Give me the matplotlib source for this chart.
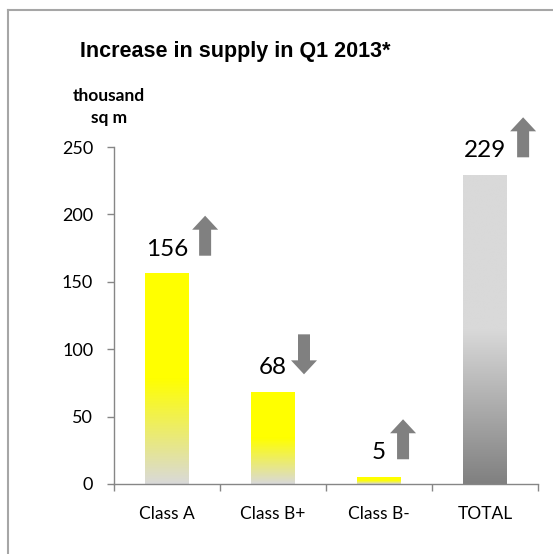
import numpy as np
import matplotlib
matplotlib.use("Agg")
import matplotlib.pyplot as plt
from matplotlib.patches import Polygon
from matplotlib.lines import Line2D
from matplotlib.transforms import IdentityTransform
from matplotlib.colors import to_rgb

# Data
categories = ["Class A", "Class B+", "Class B-", "TOTAL"]
values = [156, 68, 5, 229]
trend = ["up", "down", "up", "up"]
y_ticks = [0, 50, 100, 150, 200, 250]

title = "Increase in supply in Q1 2013*"
unit_label = "thousand\nsq m"

# Styling
top_colors = ["#FFFF00", "#FFFF00", "#FFFF00", "#D9D9D9"]
bottom_colors = ["#D9D9D9", "#D9D9D9", "#D9D9D9", "#808080"]
axis_color = "#868686"
arrow_color = "#808080"
num_font = "Lato"

DPI = 100
fig = plt.figure(figsize=(5.53, 5.54), dpi=DPI)
W, H = 553, 554

ax = fig.add_axes([114 / W, 1 - 484 / H, (538 - 114) / W, (484 - 147) / H])
x = np.arange(len(categories))

bars = ax.bar(x, values, width=0.41, color="none", edgecolor="none", zorder=2)


def gradient_image(top, bottom, n=200):
    t = np.linspace(0, 1, n)
    f = np.clip((t - 0.5) / 0.5, 0, 1)[:, None]
    c0 = np.array(to_rgb(top))[None, :]
    c1 = np.array(to_rgb(bottom))[None, :]
    rgb = c0 * (1 - f) + c1 * f
    return rgb[:, None, :]


for bar, ct, cb in zip(bars, top_colors, bottom_colors):
    x0 = bar.get_x()
    x1 = x0 + bar.get_width()
    h = bar.get_height()
    ax.imshow(gradient_image(ct, cb), extent=(x0, x1, 0, h), origin="upper",
              aspect="auto", interpolation="bilinear", zorder=2)

ax.set_xlim(-0.5, len(categories) - 0.5)
ax.set_ylim(0, 250)

for s in ["top", "right"]:
    ax.spines[s].set_visible(False)
for s in ["left", "bottom"]:
    ax.spines[s].set_color(axis_color)
    ax.spines[s].set_linewidth(1.0)

ax.set_yticks(y_ticks)
ax.set_yticklabels([str(v) for v in y_ticks], fontfamily=num_font, fontsize=13)
ax.tick_params(axis="y", length=5, width=1.0, color=axis_color, pad=10)

ax.set_xticks(x)
ax.set_xticklabels(categories, fontfamily=num_font, fontsize=12.5)
ax.set_xticks(np.arange(len(categories) + 1) - 0.5, minor=True)
ax.tick_params(axis="x", which="major", length=0, pad=16)
ax.tick_params(axis="x", which="minor", length=5, width=1.0, color=axis_color)

# Value labels above the bars
labels = []
for xi, v in zip(x, values):
    t = ax.annotate(str(v), (xi, v), xytext=(0, 18 * 72 / DPI), textcoords="offset points",
                    ha="center", va="baseline", fontfamily=num_font, fontsize=17.5,
                    color="black")
    labels.append(t)

# Titles
fig.text(80 / W, 1 - 57 / H, title, fontfamily="Liberation Sans", fontweight="bold",
         fontsize=15.5, ha="left", va="baseline")
fig.text(109 / W, 1 - 107 / H, unit_label, fontfamily=num_font, fontweight="bold",
         fontsize=12.5, ha="center", va="center", linespacing=1.45)

# Frame around the chart area
fig.add_artist(Line2D([8 / W, 8 / W], [0, 1 - 10 / H], transform=fig.transFigure,
                      color="#A6A6A6", linewidth=1.5))
fig.add_artist(Line2D([8 / W, 1], [1 - 10 / H, 1 - 10 / H], transform=fig.transFigure,
                      color="#A6A6A6", linewidth=1.5))

# Trend arrows next to the value labels
fig.canvas.draw()
renderer = fig.canvas.get_renderer()
aw, ah, sw, hh = 26, 40, 12, 14
up_shape = np.array([
    [(aw - sw) / 2, 0], [(aw + sw) / 2, 0], [(aw + sw) / 2, ah - hh], [aw, ah - hh],
    [aw / 2, ah], [0, ah - hh], [(aw - sw) / 2, ah - hh],
])
for t, xi, v, d in zip(labels, x, values, trend):
    bb = t.get_window_extent(renderer)
    base_y = ax.transData.transform((xi, v))[1] + 18
    shape = up_shape.copy()
    if d == "down":
        shape[:, 1] = ah - shape[:, 1]
    verts = shape + np.array([bb.x1 + 4, base_y])
    fig.add_artist(Polygon(verts, closed=True, transform=IdentityTransform(),
                           facecolor=arrow_color, edgecolor="none"))

fig.savefig("out.png", dpi=DPI, facecolor="white")
